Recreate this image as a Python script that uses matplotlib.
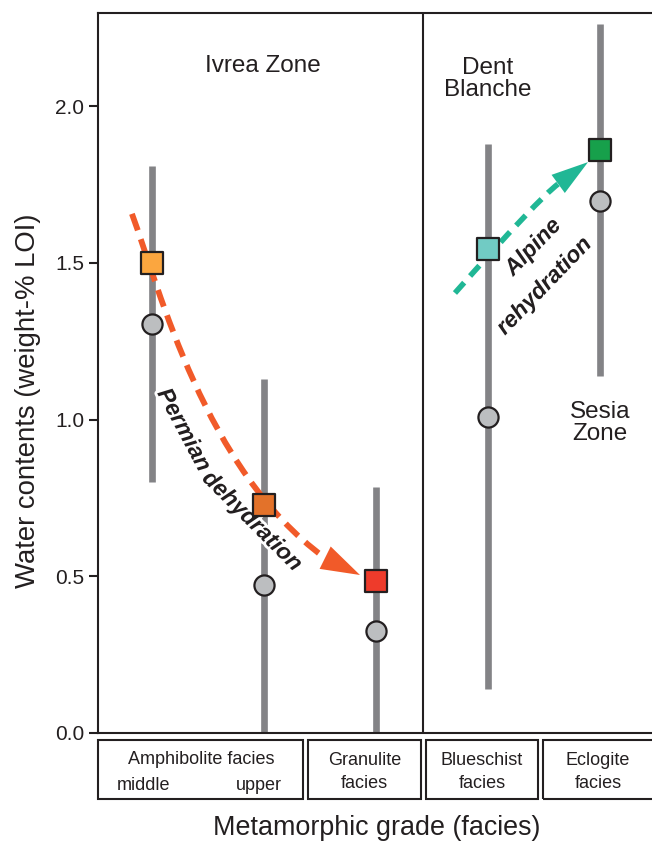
import numpy as np
import matplotlib.pyplot as plt
import matplotlib.patheffects as pe
from matplotlib.path import Path
from matplotlib.patches import PathPatch, Rectangle

plt.rcParams['font.family'] = ['Liberation Sans', 'DejaVu Sans']

# facies groups, left to right
groups = ["middle amphibolite", "upper amphibolite", "granulite", "blueschist", "eclogite"]
xpos = [1, 2, 3, 4, 5]
range_low = [0.80, 0.0, 0.0, 0.14, 1.14]
range_high = [1.81, 1.13, 0.785, 1.88, 2.26]
sq_vals = [1.50, 0.727, 0.485, 1.545, 1.86]
circ_vals = [1.305, 0.472, 0.325, 1.008, 1.697]
sq_colors = ["#FBA63F", "#E3722A", "#EE3B2B", "#71CBC4", "#17A04B"]

yticks = [0.0, 0.5, 1.0, 1.5, 2.0]

# arrow paths (data coords): Permian (cubic), Alpine (quadratic)
perm_x = [0.821, 1.071, 1.473, 2.536]
perm_y = [1.656, 1.413, 0.839, 0.561]
perm_tip = (2.857, 0.504)
alp_x = [3.705, 4.452, 4.625]
alp_y = [1.4035, 1.705, 1.751]
alp_tip = (4.893, 1.821)

dark = "#231F20"
orange = "#F15A29"
teal = "#20B795"

fig = plt.figure(figsize=(6.52, 8.42), dpi=100)
W, H = 652, 842
ax = fig.add_axes([98 / W, 109 / H, 560 / W, 720 / H])

ax.vlines(xpos, range_low, range_high, color="#838386", lw=4.8, zorder=1)

# Permian dehydration arrow
verts = np.column_stack([perm_x, perm_y])
p = Path(verts, [Path.MOVETO, Path.CURVE4, Path.CURVE4, Path.CURVE4])
ax.add_patch(PathPatch(p, fill=False, edgecolor=orange, lw=4.2,
                       linestyle=(0, (3, 1.6)), capstyle='butt', zorder=3))
ax.annotate("", xy=perm_tip, xytext=(perm_x[-1], perm_y[-1]),
            arrowprops=dict(arrowstyle="-|>,head_length=2.8,head_width=0.9",
                            color=orange, lw=0, shrinkA=0, shrinkB=0,
                            mutation_scale=10), zorder=3)

# Alpine rehydration arrow
verts = np.column_stack([alp_x, alp_y])
p = Path(verts, [Path.MOVETO, Path.CURVE3, Path.CURVE3])
ax.add_patch(PathPatch(p, fill=False, edgecolor=teal, lw=4.0,
                       linestyle=(0, (2.5, 1.6)), capstyle='butt', zorder=3))
ax.annotate("", xy=alp_tip, xytext=(alp_x[-1], alp_y[-1]),
            arrowprops=dict(arrowstyle="-|>,head_length=2.66,head_width=0.81",
                            color=teal, lw=0, shrinkA=0, shrinkB=0,
                            mutation_scale=10), zorder=3)

ax.scatter(xpos, circ_vals, marker='o', s=14.5 ** 2, c="#BCBEC0",
           edgecolors=dark, linewidths=1.6, zorder=4)
ax.scatter(xpos, sq_vals, marker='s', s=16 ** 2, c=sq_colors,
           edgecolors=dark, linewidths=1.6, zorder=5)

halo = [pe.withStroke(linewidth=4, foreground='white')]
arrow_txt = dict(ha='center', va='center', fontsize=16.5, fontweight='bold',
                 fontstyle='italic', color=dark, path_effects=halo, zorder=2.5)
ax.text(1.285, 0.967, "Permian", rotation=-62, **arrow_txt)
ax.text(1.895, 0.676, "dehydration", rotation=-45, **arrow_txt)
ax.text(4.40, 1.55, "Alpine", rotation=46, **arrow_txt)
ax.text(4.50, 1.426, "rehydration", rotation=46, **arrow_txt)

ax.text(1.99, 2.128, "Ivrea Zone", ha='center', va='center', fontsize=17.5, color=dark)
ax.text(4.0, 2.086, "Dent\nBlanche", ha='center', va='center', fontsize=17.5,
        color=dark, linespacing=1.0)
ax.text(5.0, 0.988, "Sesia\nZone", ha='center', va='center', fontsize=17.5,
        color=dark, linespacing=1.0)

ax.axvline(3.424, color=dark, lw=1.5)

ax.set_xlim(0.518, 1 + (658 - 152) / 112)
ax.set_ylim(0, (733 - 13) / 313.5)
ax.set_xticks([])
ax.set_yticks(yticks)
ax.set_yticklabels([f"{v:.1f}" for v in yticks])
ax.tick_params(axis='y', direction='out', length=6.5, width=1.5, pad=3.5,
               labelsize=15, colors=dark)
for s in ['left', 'top', 'bottom']:
    ax.spines[s].set_linewidth(1.5)
    ax.spines[s].set_color(dark)
ax.spines['right'].set_visible(False)

# facies boxes under the axis
box_edges = [(98, 303), (308, 421), (426, 538), (543, 660)]
for x0, x1 in box_edges:
    fig.add_artist(Rectangle((x0 / W, 1 - 799 / H), (x1 - x0) / W, 59 / H,
                             transform=fig.transFigure, fill=False, lw=1.5,
                             ec=dark))
box_labels = [("Amphibolite facies", 201, 760), ("middle", 143.5, 785),
              ("upper", 258.5, 785), ("Granulite\nfacies", 364.5, 772),
              ("Blueschist\nfacies", 482, 772), ("Eclogite\nfacies", 598, 772)]
for txt, px, py in box_labels:
    fig.text(px / W, 1 - py / H, txt, ha='center', va='center', fontsize=13,
             color=dark, linespacing=1.45)

fig.text(28 / W, 1 - 401 / H, "Water contents (weight-% LOI)", rotation=90,
         ha='center', va='center', fontsize=19.8, color=dark)
fig.text(376.5 / W, 1 - 828 / H, "Metamorphic grade (facies)",
         ha='center', va='center', fontsize=19.4, color=dark)

fig.savefig("out.png", dpi=100)
